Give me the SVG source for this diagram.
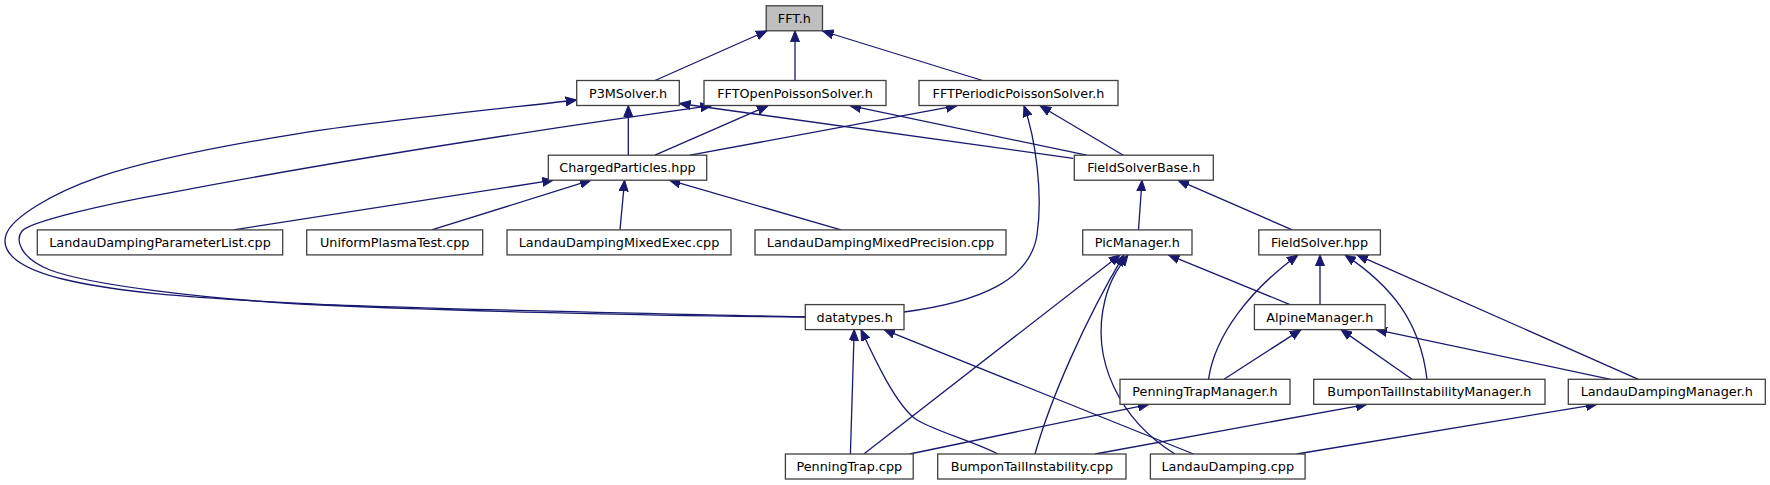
<svg xmlns="http://www.w3.org/2000/svg" width="1770" height="485" viewBox="0 0 1770 485">
<style>
.n rect{fill:#ffffff;stroke:#404040;stroke-width:1.3}
.n.root rect{fill:#bfbfbf}
.n text{font-family:"DejaVu Sans",sans-serif;font-size:12.8px;fill:#000000;text-anchor:middle}
.e path{fill:none;stroke:#191970;stroke-width:1.3;marker-end:url(#ah)}
</style>
<defs>
<marker id="ah" markerUnits="userSpaceOnUse" markerWidth="12" markerHeight="10" refX="11" refY="4.5" orient="auto" viewBox="0 0 12 9">
<path d="M0,0 L11,4.5 L0,9 z" fill="#191970" stroke="#191970" stroke-width="1"/>
</marker>
</defs>
<rect width="1770" height="485" fill="#ffffff"/>
<g id="connectors" class="e">
<path d="M655,80.5 L767,30.8"/>
<path d="M795,80.5 L795,30.8"/>
<path d="M982.5,80.5 L822.5,31"/>
<path d="M628.3,155.2 L628.3,105.5"/>
<path d="M655,155.2 L768,105.7"/>
<path d="M690,155.2 L957,105.7"/>
<path d="M1073.3,158.3 L679.5,103.5"/>
<path d="M1086.7,155.2 L850,105.7"/>
<path d="M1123.3,155.2 L1040,105.7"/>
<path d="M805,317 C720.8,314.7 423,309.5 300,303.3 C177,297.1 115.7,291.4 66.7,280 C17.7,268.6 0.5,252.2 6,235 C11.5,217.8 51,193.6 100,176.7 C149,159.8 220.5,146.1 300,133.3 C379.5,120.5 530.6,105.6 576.7,100"/>
<path d="M805,317 C650,316 420,310 300,304 C200,298 90,285 50,270 C20,258 15,240 22,231 C30,222 100,205 166.7,193.3 C300,168 500,135 711.5,105.7"/>
<path d="M904,312 C980,302 1030,280 1037,235 C1043,195 1036,140 1024,105.7"/>
<path d="M233.3,229.9 L553.3,180.2"/>
<path d="M431.7,229.9 L591,180.2"/>
<path d="M620,229.9 L624.6,180.2"/>
<path d="M841,229.9 L669.4,180.2"/>
<path d="M1138.5,229.9 L1142,180.2"/>
<path d="M1292.3,229.9 L1178,180.2"/>
<path d="M1290,304.6 L1168.5,254.9"/>
<path d="M1320,304.6 L1320,254.9"/>
<path d="M1208.5,379.3 C1215,335 1250,290 1298,254.9"/>
<path d="M1427,379.3 C1420,320 1390,285 1345,254.9"/>
<path d="M1638.4,379.3 L1357,254.9"/>
<path d="M1224,379.3 L1301,329.6"/>
<path d="M1412,379.3 L1341,329.6"/>
<path d="M1610.6,379.3 L1376,329.6"/>
<path d="M850.4,454 L854.2,329.6"/>
<path d="M998,454 C970,440 940,433 917,420 C897,407 874,358 861,329.6"/>
<path d="M1193.5,454 L884,329.6"/>
<path d="M863.8,454 L1120,254.9"/>
<path d="M1035,454 C1050,400 1085,320 1124,254.9"/>
<path d="M1175,454 C1120,420 1090,360 1105,300 C1110,280 1118,268 1128,254.9"/>
<path d="M909.7,454 L1149,404.3"/>
<path d="M1095,454 L1367,404.3"/>
<path d="M1296.6,454 L1597,404.3"/>
</g>
<g id="n_fft" class="n root"><rect x="766.2" y="5.8" width="56.3" height="25"/><text x="794.35" y="22.8">FFT.h</text></g>
<g id="n_p3m" class="n"><rect x="576.7" y="80.5" width="102.6" height="25"/><text x="628" y="97.5">P3MSolver.h</text></g>
<g id="n_fftopen" class="n"><rect x="704" y="80.5" width="182" height="25"/><text x="795" y="97.5">FFTOpenPoissonSolver.h</text></g>
<g id="n_fftper" class="n"><rect x="919" y="80.5" width="199" height="25"/><text x="1018.5" y="97.5">FFTPeriodicPoissonSolver.h</text></g>
<g id="n_charged" class="n"><rect x="548.3" y="155.2" width="158.4" height="25"/><text x="627.5" y="172.2">ChargedParticles.hpp</text></g>
<g id="n_fsb" class="n"><rect x="1074.3" y="155.2" width="139" height="25"/><text x="1143.8" y="172.2">FieldSolverBase.h</text></g>
<g id="n_ldpl" class="n"><rect x="37.3" y="229.9" width="245.4" height="25"/><text x="160" y="246.9">LandauDampingParameterList.cpp</text></g>
<g id="n_upt" class="n"><rect x="306.7" y="229.9" width="176" height="25"/><text x="394.7" y="246.9">UniformPlasmaTest.cpp</text></g>
<g id="n_ldme" class="n"><rect x="507" y="229.9" width="224" height="25"/><text x="619" y="246.9">LandauDampingMixedExec.cpp</text></g>
<g id="n_ldmp" class="n"><rect x="755" y="229.9" width="251" height="25"/><text x="880.5" y="246.9">LandauDampingMixedPrecision.cpp</text></g>
<g id="n_pic" class="n"><rect x="1082.7" y="229.9" width="109.3" height="25"/><text x="1137.35" y="246.9">PicManager.h</text></g>
<g id="n_fs" class="n"><rect x="1258.8" y="229.9" width="121.6" height="25"/><text x="1319.6" y="246.9">FieldSolver.hpp</text></g>
<g id="n_dt" class="n"><rect x="805.3" y="304.6" width="98.7" height="25"/><text x="854.65" y="321.6">datatypes.h</text></g>
<g id="n_alp" class="n"><rect x="1254.4" y="304.6" width="130.8" height="25"/><text x="1319.8" y="321.6">AlpineManager.h</text></g>
<g id="n_ptm" class="n"><rect x="1120" y="379.3" width="170" height="25"/><text x="1205" y="396.3">PenningTrapManager.h</text></g>
<g id="n_btim" class="n"><rect x="1313.7" y="379.3" width="231.3" height="25"/><text x="1429.35" y="396.3">BumponTailInstabilityManager.h</text></g>
<g id="n_ldm" class="n"><rect x="1568.3" y="379.3" width="197" height="25"/><text x="1666.8" y="396.3">LandauDampingManager.h</text></g>
<g id="n_pt" class="n"><rect x="785.4" y="454" width="127.8" height="25"/><text x="849.3" y="471">PenningTrap.cpp</text></g>
<g id="n_bti" class="n"><rect x="937.7" y="454" width="188.3" height="25"/><text x="1031.85" y="471">BumponTailInstability.cpp</text></g>
<g id="n_ld" class="n"><rect x="1150.4" y="454" width="154.7" height="25"/><text x="1227.75" y="471">LandauDamping.cpp</text></g>
</svg>
